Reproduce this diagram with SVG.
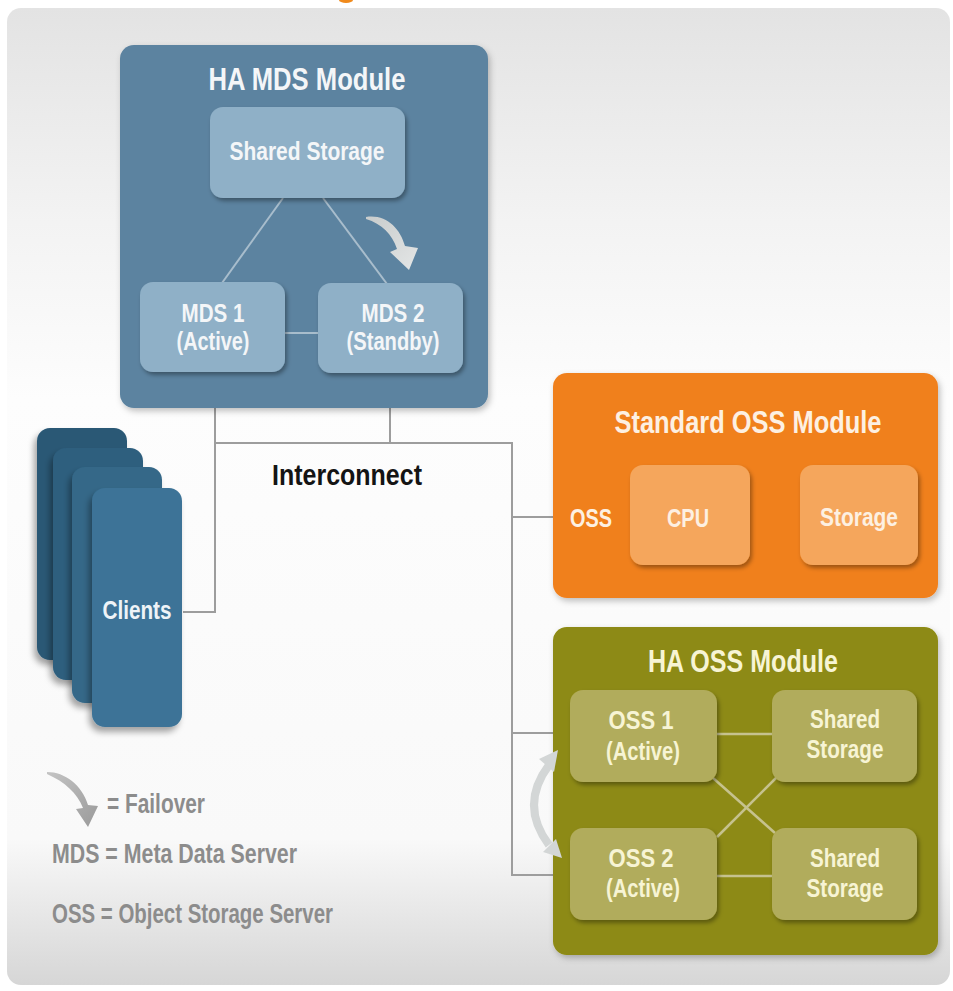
<svg xmlns="http://www.w3.org/2000/svg" width="953" height="991" viewBox="0 0 953 991">
  <defs>
    <linearGradient id="bg" x1="0" y1="0" x2="0" y2="1">
      <stop offset="0" stop-color="#e3e3e3"/>
      <stop offset="0.22" stop-color="#f3f3f3"/>
      <stop offset="0.4" stop-color="#fdfdfd"/>
      <stop offset="0.85" stop-color="#f9f9f9"/>
      <stop offset="1" stop-color="#d6d6d6"/>
    </linearGradient>
    <linearGradient id="arrowGrad" x1="0" y1="0" x2="1" y2="1">
      <stop offset="0" stop-color="#c8cccc"/>
      <stop offset="1" stop-color="#e4e6e6"/>
    </linearGradient>
    <linearGradient id="legendArrow" x1="0" y1="0" x2="1" y2="1">
      <stop offset="0" stop-color="#c4c4c4"/>
      <stop offset="1" stop-color="#9a9a9a"/>
    </linearGradient>
    <filter id="shadow" x="-10%" y="-10%" width="125%" height="125%">
      <feDropShadow dx="2" dy="3" stdDeviation="3" flood-color="#000" flood-opacity="0.25"/>
    </filter>
    <filter id="innerShadow" x="-10%" y="-10%" width="125%" height="130%">
      <feDropShadow dx="2" dy="3" stdDeviation="2" flood-color="#000" flood-opacity="0.35"/>
    </filter>
    <filter id="cardShadow" x="-30%" y="-10%" width="150%" height="125%">
      <feDropShadow dx="-3" dy="5" stdDeviation="3" flood-color="#000" flood-opacity="0.35"/>
    </filter>
  </defs>
  <style>
    text { font-family: "Liberation Sans Narrow", "Liberation Sans", Arial, sans-serif; font-weight: bold; }
    .title { font-size: 32px; text-anchor: middle; }
    .lbl { font-size: 25px; text-anchor: middle; }
    .mdsT { fill: #f4f6f8; }
    .orT { fill: #fdf0e2; }
    .olT { fill: #f7f4d4; }
    .leg { font-size: 27px; fill: #8c8c8c; }
    .conn { fill: none; stroke: #9d9d9d; stroke-width: 2; }
    .mdsLine { fill: none; stroke: #a8bdcc; stroke-width: 2; }
    .olLine { fill: none; stroke: #c6c28e; stroke-width: 2.5; }
  </style>

  <rect x="0" y="0" width="953" height="991" fill="#ffffff"/>
  <rect x="7" y="8" width="943" height="977" rx="14" fill="url(#bg)"/>
  <ellipse cx="346" cy="0" rx="7" ry="3" fill="#f08a1c"/>

  <!-- connectors -->
  <g id="connectors">
    <polyline class="conn" points="215,372 215,612 183,612"/>
    <polyline class="conn" points="215,443 512,443 512,875 553,875"/>
    <line class="conn" x1="390" y1="373" x2="390" y2="443"/>
    <line class="conn" x1="512" y1="517" x2="553" y2="517"/>
    <line class="conn" x1="512" y1="733" x2="553" y2="733"/>
  </g>

  <!-- HA MDS Module -->
  <g id="ha-mds-module">
    <rect x="120" y="45" width="368" height="363" rx="14" fill="#5c83a0" filter="url(#shadow)"/>
    <text class="title mdsT" x="307" y="90" textLength="197" lengthAdjust="spacingAndGlyphs">HA MDS Module</text>
    <g id="mds-lines">
      <line class="mdsLine" x1="283" y1="198" x2="222" y2="283"/>
      <line class="mdsLine" x1="323" y1="198" x2="387" y2="284"/>
      <line class="mdsLine" x1="285" y1="333" x2="318" y2="333"/>
    </g>
    <g id="mds-shared-storage">
      <rect x="210" y="107" width="195" height="91" rx="13" fill="#8fb0c7" filter="url(#innerShadow)"/>
      <text class="lbl mdsT" x="307" y="160" textLength="155" lengthAdjust="spacingAndGlyphs">Shared Storage</text>
    </g>
    <g id="mds1">
      <rect x="140" y="282" width="145" height="90" rx="13" fill="#8fb0c7" filter="url(#innerShadow)"/>
      <text class="lbl mdsT" x="213" y="322" textLength="63" lengthAdjust="spacingAndGlyphs">MDS 1</text>
      <text class="lbl mdsT" x="213" y="350" textLength="73" lengthAdjust="spacingAndGlyphs">(Active)</text>
    </g>
    <g id="mds2">
      <rect x="318" y="283" width="145" height="90" rx="13" fill="#8fb0c7" filter="url(#innerShadow)"/>
      <text class="lbl mdsT" x="393" y="322" textLength="63" lengthAdjust="spacingAndGlyphs">MDS 2</text>
      <text class="lbl mdsT" x="393" y="350" textLength="93" lengthAdjust="spacingAndGlyphs">(Standby)</text>
    </g>
    <path id="mds-failover" d="M 366 217 C 386 214 400 228 405 246 L 418 248 L 409 270 L 390 252 L 397 249 C 392 234 382 224 366 219 Z" fill="url(#arrowGrad)"/>
  </g>

  <g id="interconnect-label">
    <text x="347" y="485" font-size="30" text-anchor="middle" fill="#141414" textLength="150" lengthAdjust="spacingAndGlyphs">Interconnect</text>
  </g>

  <!-- Clients -->
  <g id="clients">
    <rect x="37" y="428" width="90" height="232" rx="13" fill="#2a5875" filter="url(#cardShadow)"/>
    <rect x="53" y="448" width="90" height="232" rx="13" fill="#2e5f7e" filter="url(#cardShadow)"/>
    <rect x="72" y="467" width="90" height="236" rx="13" fill="#346888" filter="url(#cardShadow)"/>
    <rect x="92" y="488" width="90" height="239" rx="13" fill="#3c7397" filter="url(#cardShadow)"/>
    <text class="lbl" x="137" y="619" fill="#eef3f7" textLength="69" lengthAdjust="spacingAndGlyphs">Clients</text>
  </g>

  <!-- Standard OSS Module -->
  <g id="standard-oss-module">
    <rect x="553" y="373" width="385" height="225" rx="14" fill="#f0801f" filter="url(#shadow)"/>
    <text class="title orT" x="748" y="433" textLength="267" lengthAdjust="spacingAndGlyphs">Standard OSS Module</text>
    <text class="lbl orT" x="591" y="527" textLength="42" lengthAdjust="spacingAndGlyphs">OSS</text>
    <g id="std-cpu">
      <rect x="630" y="465" width="120" height="100" rx="13" fill="#f5a65b" filter="url(#innerShadow)"/>
      <text class="lbl orT" x="688" y="527" textLength="42" lengthAdjust="spacingAndGlyphs">CPU</text>
    </g>
    <g id="std-storage">
      <rect x="800" y="465" width="118" height="100" rx="13" fill="#f5a65b" filter="url(#innerShadow)"/>
      <text class="lbl orT" x="859" y="526" textLength="78" lengthAdjust="spacingAndGlyphs">Storage</text>
    </g>
  </g>

  <!-- HA OSS Module -->
  <g id="ha-oss-module">
    <rect x="553" y="627" width="385" height="328" rx="14" fill="#8d8a12" filter="url(#shadow)"/>
    <text class="title olT" x="743" y="672" textLength="190" lengthAdjust="spacingAndGlyphs">HA OSS Module</text>
    <g id="oss-lines">
      <line class="olLine" x1="717" y1="734" x2="772" y2="734"/>
      <line class="olLine" x1="717" y1="876" x2="772" y2="876"/>
      <line class="olLine" x1="713" y1="778" x2="775" y2="833"/>
      <line class="olLine" x1="777" y1="777" x2="717" y2="837"/>
    </g>
    <g id="oss1">
      <rect x="570" y="690" width="147" height="92" rx="13" fill="#b1ac5b" filter="url(#innerShadow)"/>
      <text class="lbl olT" x="641" y="729" textLength="65" lengthAdjust="spacingAndGlyphs">OSS 1</text>
      <text class="lbl olT" x="643" y="760" textLength="74" lengthAdjust="spacingAndGlyphs">(Active)</text>
    </g>
    <g id="oss-shared-storage-1">
      <rect x="772" y="690" width="145" height="92" rx="13" fill="#b1ac5b" filter="url(#innerShadow)"/>
      <text class="lbl olT" x="845" y="728" textLength="70" lengthAdjust="spacingAndGlyphs">Shared</text>
      <text class="lbl olT" x="845" y="758" textLength="77" lengthAdjust="spacingAndGlyphs">Storage</text>
    </g>
    <g id="oss2">
      <rect x="570" y="828" width="147" height="92" rx="13" fill="#b1ac5b" filter="url(#innerShadow)"/>
      <text class="lbl olT" x="641" y="867" textLength="65" lengthAdjust="spacingAndGlyphs">OSS 2</text>
      <text class="lbl olT" x="643" y="897" textLength="74" lengthAdjust="spacingAndGlyphs">(Active)</text>
    </g>
    <g id="oss-shared-storage-2">
      <rect x="772" y="828" width="145" height="92" rx="13" fill="#b1ac5b" filter="url(#innerShadow)"/>
      <text class="lbl olT" x="845" y="867" textLength="70" lengthAdjust="spacingAndGlyphs">Shared</text>
      <text class="lbl olT" x="845" y="897" textLength="77" lengthAdjust="spacingAndGlyphs">Storage</text>
    </g>
  </g>

  <!-- OSS failover double arrow -->
  <g id="oss-failover">
    <path d="M 549 765 Q 519 805 549 845" fill="none" stroke="#d3d6d6" stroke-width="8"/>
    <polygon points="558,750 539,759 554,772" fill="#d3d6d6"/>
    <polygon points="562,858 543,852 556,839" fill="#d3d6d6"/>
  </g>

  <!-- Legend -->
  <g id="legend">
    <path d="M 47 772 C 65 772 82 785 88 805 L 98 806 L 88 827 L 76 809 L 83 808 C 77 793 65 782 47 774 Z" fill="url(#legendArrow)"/>
    <text class="leg" x="107" y="813" textLength="98" lengthAdjust="spacingAndGlyphs">= Failover</text>
    <text class="leg" x="52" y="863" textLength="245" lengthAdjust="spacingAndGlyphs">MDS = Meta Data Server</text>
    <text class="leg" x="52" y="923" textLength="281" lengthAdjust="spacingAndGlyphs">OSS = Object Storage Server</text>
  </g>
</svg>
